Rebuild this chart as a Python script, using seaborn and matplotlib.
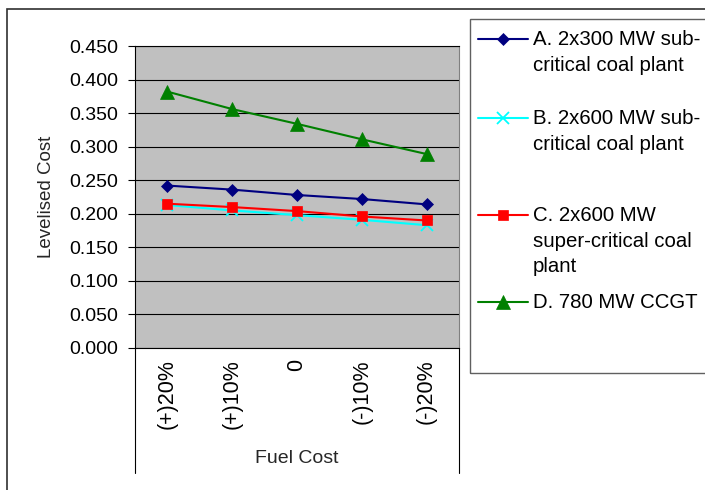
import matplotlib
matplotlib.use("Agg")

import pandas as pd
import matplotlib.pyplot as plt
import seaborn as sns
from matplotlib.lines import Line2D
from matplotlib.patches import Rectangle

sns.set_style("white")
plt.rcParams["font.family"] = ["Liberation Sans", "DejaVu Sans"]

fuel_cost = ["(+)20%", "(+)10%", "0", "(-)10%", "(-)20%"]
plant_a = [0.242, 0.236, 0.228, 0.222, 0.214]
plant_b = [0.213, 0.205, 0.198, 0.191, 0.183]
plant_c = [0.215, 0.210, 0.204, 0.196, 0.190]
plant_d = [0.382, 0.356, 0.334, 0.311, 0.289]

series_names = [
    "A. 2x300 MW sub-\ncritical coal plant",
    "B. 2x600 MW sub-\ncritical coal plant",
    "C. 2x600 MW\nsuper-critical coal\nplant",
    "D. 780 MW CCGT",
]
series_values = [plant_a, plant_b, plant_c, plant_d]
colors = ["#000080", "#00FFFF", "#FF0000", "#008000"]
markers = ["D", "x", "s", "^"]
msizes = [6.5, 8, 7.5, 9.5]

rows = []
for name, vals in zip(series_names, series_values):
    for i, v in enumerate(vals):
        rows.append({"series": name, "pos": i, "cost": v})
df = pd.DataFrame(rows)

fig = plt.figure(figsize=(7.05, 4.9), dpi=100)
ax = fig.add_axes([135 / 705, 1 - 348 / 490, 324 / 705, 302 / 490])
ax.set_facecolor("#C0C0C0")

for name, col, mk, ms in zip(series_names, colors, markers, msizes):
    sub = df[df["series"] == name]
    sns.lineplot(data=sub, x="pos", y="cost", color=col, marker=mk,
                 markersize=ms, markeredgecolor=col, markeredgewidth=1.3 if mk == "x" else 0.5,
                 linewidth=1.5, ax=ax, legend=False, sort=False)

ax.set_xlim(-0.5, len(fuel_cost) - 0.5)
ax.set_ylim(0, 0.45)
ax.set_yticks([i * 0.05 for i in range(10)])
ax.set_yticklabels([f"{i * 0.05:.3f}" for i in range(10)])
ax.yaxis.grid(True, color="black", linewidth=0.8)
ax.xaxis.grid(False)
ax.set_axisbelow(True)

ax.set_xticks(range(len(fuel_cost)))
ax.set_xticklabels(fuel_cost, rotation=90)
ax.set_xticks([i - 0.5 for i in range(len(fuel_cost) + 1)], minor=True)
ax.tick_params(axis="x", which="major", length=0, pad=8, labelsize=15.5, colors="black")
ax.tick_params(axis="x", which="minor", length=57.6, width=0.8, direction="out", color="black")
ax.tick_params(axis="y", length=5, width=0.8, pad=7, labelsize=14, left=True, colors="black")

for s in ax.spines.values():
    s.set_color("black")
    s.set_linewidth(0.8)
ax.spines["right"].set_color("#808080")

ax.set_xlabel("Fuel Cost", fontsize=14, labelpad=12.5)
ax.set_ylabel("Levelised Cost", fontsize=13.5, labelpad=10)

# extended category-axis border lines
for xa in (0, 1):
    ax.add_line(Line2D([xa, xa], [0, -(473 - 348) / 302], transform=ax.transAxes,
                       color="black", linewidth=0.8, clip_on=False))

# outer chart border
fig.patches.append(Rectangle((7 / 705, -0.1), 1.2, 1 - 9 / 490 + 0.1, transform=fig.transFigure,
                             fill=False, edgecolor="#303030", linewidth=1.2))
# legend box
fig.patches.append(Rectangle((470 / 705, 1 - 373 / 490), 0.5, (373 - 19) / 490, transform=fig.transFigure,
                             fill=False, edgecolor="#606060", linewidth=1.0))

legend_y = [39, 118, 215, 302]
for name, col, mk, ms, yy in zip(series_names, colors, markers, msizes, legend_y):
    yf = 1 - yy / 490
    fig.add_artist(Line2D([478 / 705, 528 / 705], [yf, yf], transform=fig.transFigure,
                          color=col, linewidth=1.5))
    fig.add_artist(Line2D([503 / 705], [yf], transform=fig.transFigure, color=col,
                          marker=mk, markersize=ms, markeredgecolor=col,
                          markeredgewidth=1.3 if mk == "x" else 0.5, linestyle="none"))
    fig.text(533 / 705, yf + 9 / 490, name, fontsize=14.7, va="top", ha="left",
             linespacing=1.45, color="black")

fig.savefig("out.png", dpi=100)
